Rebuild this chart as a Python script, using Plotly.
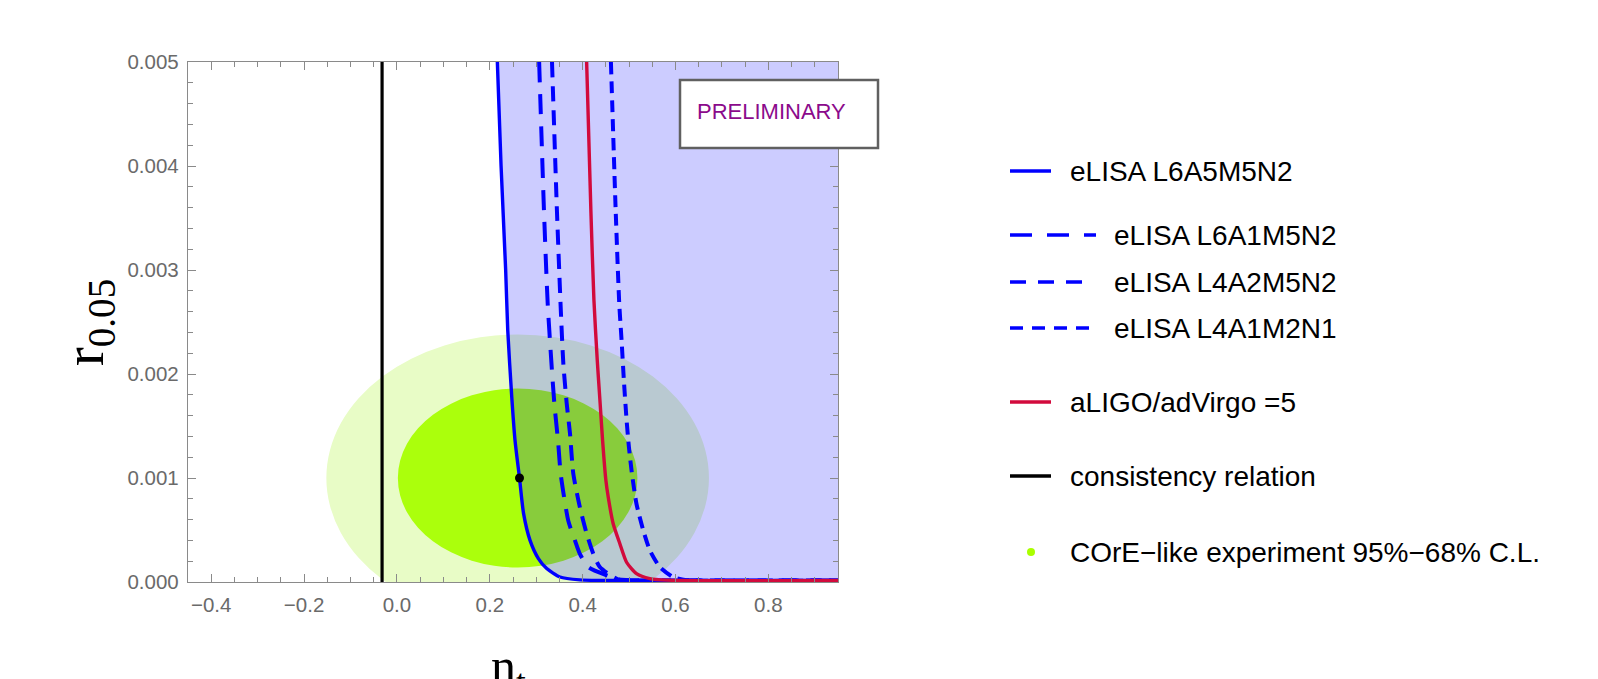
import plotly.graph_objects as go

# ---------------- data ----------------
# eLISA L6A5M5N2 (solid blue)
l6a5_x = [0.2163, 0.2243, 0.2342, 0.2387, 0.2473, 0.2544, 0.2640, 0.2727, 0.2867, 0.3047, 0.3226, 0.3512, 0.3940, 0.4370, 0.6000, 0.9500]
l6a5_y = [0.00500, 0.00400, 0.00300, 0.00242, 0.00178, 0.00136, 0.00100, 0.00066, 0.00040, 0.000225, 0.000129, 0.000048, 0.000020, 0.000015, 0.000015, 0.000015]
# eLISA L6A1M5N2 (long dashes)
l6a1_x = [0.3063, 0.3168, 0.3247, 0.3333, 0.3390, 0.3475, 0.3527, 0.3690, 0.3834, 0.3940, 0.4120, 0.4516, 0.4766, 0.6000, 0.9500]
l6a1_y = [0.00500, 0.00356, 0.00268, 0.00207, 0.00172, 0.00133, 0.00104, 0.00059, 0.00040, 0.00027, 0.000144, 0.000064, 0.000025, 0.000015, 0.000015]
# eLISA L4A2M5N2 (medium dashes)
l4a2_x = [0.3340, 0.3447, 0.3530, 0.3584, 0.3656, 0.3727, 0.3799, 0.3940, 0.4086, 0.4228, 0.4370, 0.4658, 0.4800, 0.6000, 0.9500]
l4a2_y = [0.00500, 0.00356, 0.00261, 0.00210, 0.00172, 0.00143, 0.00104, 0.00072, 0.000465, 0.000273, 0.000144, 0.000048, 0.000020, 0.000015, 0.000015]
# eLISA L4A1M2N1 (short dashes)
l4a1_x = [0.4609, 0.4710, 0.4788, 0.4839, 0.4888, 0.4946, 0.4996, 0.5054, 0.5160, 0.5303, 0.5447, 0.5662, 0.5948, 0.6237, 0.9500]
l4a1_y = [0.00500, 0.00359, 0.00268, 0.00232, 0.00194, 0.00156, 0.00130, 0.00107, 0.00075, 0.00050, 0.000305, 0.000144, 0.000048, 0.000018, 0.000015]
# aLIGO/adVirgo (red)
ligo_x = [0.4086, 0.4178, 0.4243, 0.4315, 0.4372, 0.4430, 0.4500, 0.4550, 0.4658, 0.4800, 0.4946, 0.5160, 0.5447, 0.5800, 0.9500]
ligo_y = [0.00500, 0.00356, 0.00271, 0.00213, 0.00175, 0.00136, 0.00098, 0.00082, 0.00056, 0.00037, 0.00019, 0.000081, 0.000033, 0.000018, 0.000015]
# consistency relation (vertical line)
consistency_x = [-0.032, -0.032]
consistency_y = [0.0, 0.005]
# fiducial point
fiducial = [0.264, 0.001]
# COrE-like ellipses: center, (half-width, half-height)
ellipse_center = [0.26, 0.001]
ellipse95_radii = [0.412, 0.00138]
ellipse68_radii = [0.258, 0.00086]

x_range = [-0.45, 0.95]
y_range = [0.0, 0.005]

legend_labels = ["eLISA L6A5M5N2", "eLISA L6A1M5N2", "eLISA L4A2M5N2", "eLISA L4A1M2N1",
                 "aLIGO/adVirgo =5", "consistency relation", "COrE\u2212like experiment 95%\u221268% C.L."]

# ---------------- styling ----------------
BLUE = "#0000ff"
RED = "#d20a3c"
W, H = 1598, 679
ML, MR, MT, MB = 188, 760, 62, 97
PW, PH = W - ML - MR, H - MT - MB
LEG_FONT = dict(family="Liberation Sans, Arial", size=28, color="black")


def px(xp):
    return (xp - ML) / PW


def py(yp):
    return (H - MB - yp) / PH


fig = go.Figure()

# blue shaded region (right of / above the solid eLISA curve)
fill_x = l6a5_x + [x_range[1] + 0.01, x_range[1] + 0.01]
fill_y = l6a5_y + [0.0, y_range[1]]
fig.add_trace(go.Scatter(x=fill_x, y=fill_y, mode="lines", fill="toself",
                         fillcolor="rgba(0,0,255,0.2)", line=dict(width=0),
                         hoverinfo="skip", showlegend=False))

fig.add_trace(go.Scatter(x=consistency_x, y=consistency_y, mode="lines",
                         line=dict(color="black", width=3.2), showlegend=False))

curves = [
    (l6a5_x, l6a5_y, BLUE, "solid", 3.4),
    (l6a1_x, l6a1_y, BLUE, "20px,12px", 4),
    (l4a2_x, l4a2_y, BLUE, "15px,9px", 4),
    (l4a1_x, l4a1_y, BLUE, "12px,7px", 4),
    (ligo_x, ligo_y, RED, "solid", 3.4),
]
for cx, cy, col, dash, w in curves:
    fig.add_trace(go.Scatter(x=cx, y=cy, mode="lines",
                             line=dict(color=col, width=w, dash=dash, shape="spline", smoothing=0.6),
                             showlegend=False))

fig.add_trace(go.Scatter(x=[fiducial[0]], y=[fiducial[1]], mode="markers",
                         marker=dict(color="black", size=9), showlegend=False))

shapes = []
# ellipses
for radii, col in [(ellipse95_radii, "#e8fcc6"), (ellipse68_radii, "#abff0c")]:
    shapes.append(dict(type="circle", xref="x", yref="y", layer="below",
                       x0=ellipse_center[0] - radii[0], x1=ellipse_center[0] + radii[0],
                       y0=ellipse_center[1] - radii[1], y1=ellipse_center[1] + radii[1],
                       fillcolor=col, line=dict(width=0)))

# PRELIMINARY box
shapes.append(dict(type="rect", xref="paper", yref="paper",
                   x0=px(680), x1=px(878), y0=py(148), y1=py(80),
                   fillcolor="white", line=dict(color="#606060", width=2.5)))

annotations = [dict(x=px(771), y=py(111), xref="paper", yref="paper", text="PRELIMINARY",
                    showarrow=False, font=dict(family="Liberation Sans, Arial", size=22, color="#8b0a8b"),
                    xanchor="center", yanchor="middle")]

# legend (drawn manually)
leg = [
    (171, 1051, BLUE, "solid", 1068),
    (235, 1096, BLUE, "22px,15px", 1112),
    (282, 1083, BLUE, "16px,12px", 1112),
    (328, 1092, BLUE, "13px,9px", 1112),
    (402, 1051, RED, "solid", 1068),
    (476, 1051, "black", "solid", 1068),
]
for (yy, xend, col, dash, tx), lab in zip(leg, legend_labels[:6]):
    shapes.append(dict(type="line", xref="paper", yref="paper", x0=px(1010), x1=px(xend),
                       y0=py(yy), y1=py(yy), line=dict(color=col, width=3.5, dash=dash)))
    annotations.append(dict(x=px(tx), y=py(yy), xref="paper", yref="paper", text=lab,
                            showarrow=False, xanchor="left", yanchor="middle", font=LEG_FONT))
shapes.append(dict(type="circle", xref="paper", yref="paper",
                   x0=px(1027), x1=px(1035), y0=py(556), y1=py(548),
                   fillcolor="#aaff00", line=dict(width=0)))
annotations.append(dict(x=px(1068), y=py(552), xref="paper", yref="paper", text=legend_labels[6],
                        showarrow=False, xanchor="left", yanchor="middle", font=LEG_FONT))

# axis titles
annotations.append(dict(x=px(88), y=py(323), xref="paper", yref="paper", text="r<sub>0.05</sub>",
                        textangle=-90, showarrow=False, xanchor="center", yanchor="middle",
                        font=dict(family="Liberation Serif, Times New Roman, serif", size=56, color="black")))
annotations.append(dict(x=px(508), y=py(636), xref="paper", yref="paper", text="n<sub>t</sub>",
                        showarrow=False, xanchor="center", yanchor="top",
                        font=dict(family="Liberation Serif, Times New Roman, serif", size=50, color="black")))

axis_common = dict(showgrid=False, zeroline=False, showline=True, linecolor="#8a8a8a", linewidth=1.3,
                   mirror="ticks", ticks="inside", ticklen=8, tickwidth=1.2, tickcolor="#8a8a8a",
                   ticklabelstandoff=4,
                   tickfont=dict(family="Liberation Sans, Arial", size=20.5, color="#6a6a6a"))

fig.update_layout(
    width=W, height=H, margin=dict(l=ML, r=MR, t=MT, b=MB),
    paper_bgcolor="white", plot_bgcolor="white",
    shapes=shapes, annotations=annotations, showlegend=False,
    xaxis=dict(range=x_range, tick0=0, dtick=0.2, tickformat=".1f",
               minor=dict(dtick=0.05, ticklen=5, ticks="inside", tickcolor="#8a8a8a", tickwidth=1),
               **axis_common),
    yaxis=dict(range=y_range, tick0=0, dtick=0.001, tickformat=".3f",
               minor=dict(dtick=0.0002, ticklen=5, ticks="inside", tickcolor="#8a8a8a", tickwidth=1),
               **axis_common),
)

fig.write_html("out.html")
